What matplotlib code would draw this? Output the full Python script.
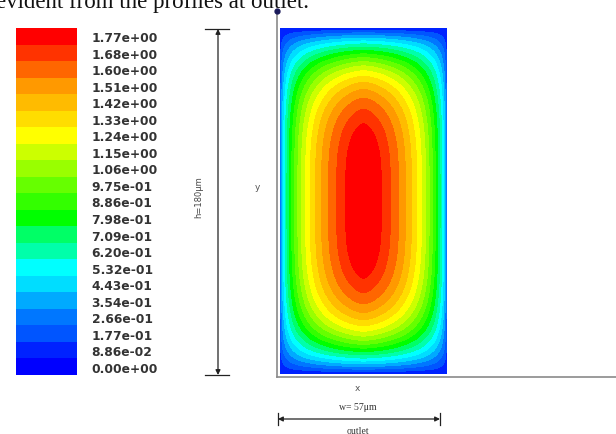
import numpy as np
import matplotlib
matplotlib.use("Agg")
import matplotlib.pyplot as plt
from matplotlib.colors import ListedColormap

# canvas size in pixels
FIG_W, FIG_H = 616, 435

# contour levels shown on the legend (top to bottom)
level_labels = ["1.77e+00", "1.68e+00", "1.60e+00", "1.51e+00", "1.42e+00",
                "1.33e+00", "1.24e+00", "1.15e+00", "1.06e+00", "9.75e-01",
                "8.86e-01", "7.98e-01", "7.09e-01", "6.20e-01", "5.32e-01",
                "4.43e-01", "3.54e-01", "2.66e-01", "1.77e-01", "8.86e-02",
                "0.00e+00"]
level_values = [1.77, 1.68, 1.60, 1.51, 1.42, 1.33, 1.24, 1.15, 1.06, 0.975,
                0.886, 0.798, 0.709, 0.620, 0.532, 0.443, 0.354, 0.266,
                0.177, 0.0886, 0.0]
level_colors = ["#ff0000", "#ff3300", "#ff6600", "#ff9900", "#ffbb00",
                "#ffdd00", "#ffff00", "#ccff00", "#99ff00", "#66ff00",
                "#33ff00", "#00ff00", "#00ff66", "#00ffaa", "#00ffff",
                "#00ddff", "#00aaff", "#0077ff", "#0055ff", "#0022ff",
                "#0000ff"]

# channel cross-section (um) and peak velocity
W_UM = 57.0
H_UM = 180.0
U_MAX = 1.77
# profile shape exponents, estimated from the band widths in the picture
P_X = 1.5
Q_Y = 3.7


def px_box(x0, y0, x1, y1):
    return [x0 / FIG_W, 1 - y1 / FIG_H, (x1 - x0) / FIG_W, (y1 - y0) / FIG_H]


def velocity_field():
    x = np.linspace(0, W_UM, 301)
    y = np.linspace(0, H_UM, 601)
    X, Y = np.meshgrid(x, y)
    s = np.abs(2 * X / W_UM - 1)
    t = np.abs(2 * Y / H_UM - 1)
    fx = np.sqrt(np.clip(1 - s ** P_X, 0, None))
    gy = np.clip(1 - t ** Q_Y, 0, None)
    return X, Y, U_MAX * fx * gy


fig = plt.figure(figsize=(FIG_W / 100, FIG_H / 100), dpi=100)

# overlay in pixel units for the dimension lines and loose labels
ov = fig.add_axes([0, 0, 1, 1])
ov.set_xlim(0, FIG_W)
ov.set_ylim(FIG_H, 0)
ov.axis("off")

# tail of the paper's running text, cut by the top edge
ov.text(-4, 8, "evident from the profiles at outlet.", fontsize=16.5,
        family="Liberation Serif", va="baseline", ha="left", color="#111111")

# domain axes lines
ov.plot([277, 277], [12, 378], color="#8a8a8a", lw=1.2)
ov.plot([277, FIG_W], [378, 378], color="#8a8a8a", lw=1.2)
ov.plot([277], [12], marker="o", ms=3.5, color="#1a1a5a")
ov.text(257, 188, "y", fontsize=6.5, color="#555555", ha="center", va="center")
ov.text(357, 389, "x", fontsize=6.5, color="#555555", ha="center", va="center")

# height dimension
for yy in (30, 376):
    ov.plot([205, 229], [yy, yy], color="#222222", lw=0.9)
ov.annotate("", xy=(218, 30), xytext=(218, 376),
            arrowprops=dict(arrowstyle="<|-|>", color="#222222", lw=0.9,
                            mutation_scale=7, shrinkA=0, shrinkB=0))
ov.text(199, 197, "h=180\u03bcm", fontsize=6, rotation=90, color="#444444",
        ha="center", va="center")

# width dimension
for xx in (278, 440):
    ov.plot([xx, xx], [414, 426], color="#222222", lw=0.9)
ov.annotate("", xy=(278, 420), xytext=(440, 420),
            arrowprops=dict(arrowstyle="<|-|>", color="#222222", lw=0.9,
                            mutation_scale=7, shrinkA=0, shrinkB=0))
ov.text(358, 408, "w= 57\u03bcm", fontsize=7, family="Liberation Serif",
        color="#333333", ha="center", va="center")
ov.text(358, 432, "outlet", fontsize=7, family="Liberation Serif",
        color="#333333", ha="center", va="center")

# contour of the velocity field
ax = fig.add_axes(px_box(280, 29, 447, 375))
X, Y, U = velocity_field()
levels_up = level_values[::-1]
colors_up = level_colors[::-1]
ax.contourf(X, Y, U, levels=levels_up, colors=colors_up[1:], extend="neither")
ax.set_xlim(0, W_UM)
ax.set_ylim(0, H_UM)
ax.axis("off")

# colour legend
cax = fig.add_axes(px_box(16, 29, 77, 376))
n = len(level_values)
cax.pcolormesh([0, 1], np.arange(n + 1), np.arange(n).reshape(-1, 1),
               cmap=ListedColormap(colors_up), shading="flat")
cax.set_xlim(0, 1)
cax.set_ylim(0, n)
cax.set_xticks([])
cax.yaxis.tick_right()
cax.set_yticks(np.arange(n) + 0.5, labels=level_labels[::-1])
cax.tick_params(axis="y", length=0, pad=10.5, labelsize=8.8, labelcolor="#333333")
for lab in cax.get_yticklabels():
    lab.set_fontweight("bold")
for sp in cax.spines.values():
    sp.set_visible(False)

fig.savefig("out.png", dpi=100)
